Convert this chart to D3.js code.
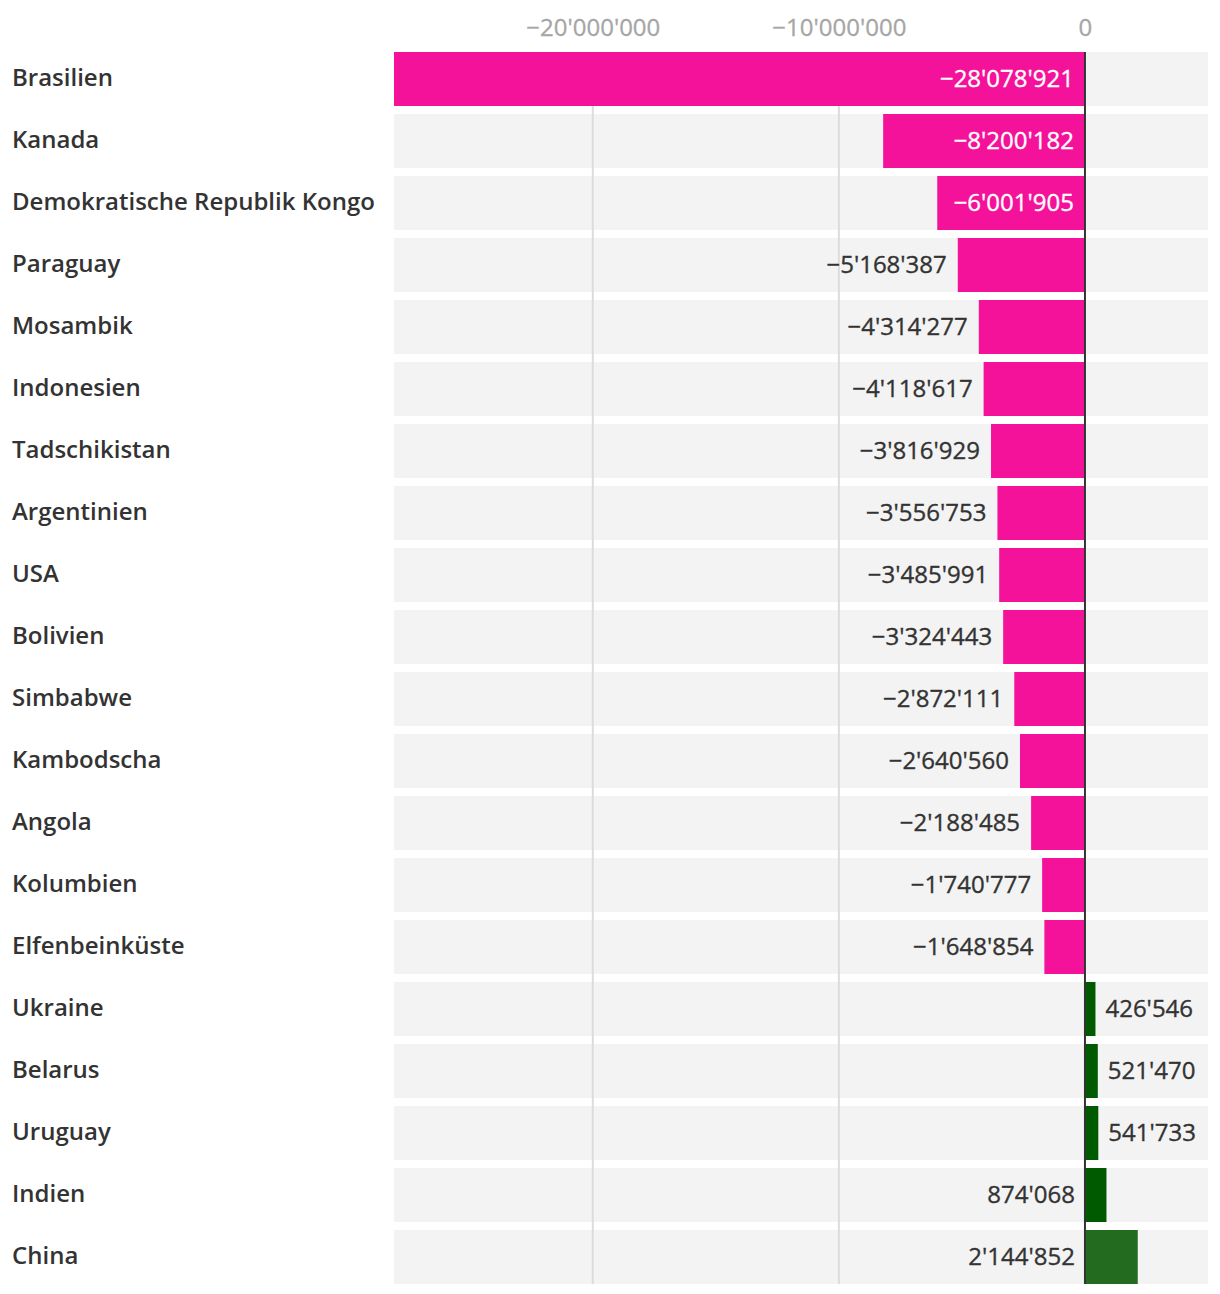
<!DOCTYPE html>
<html><head><meta charset="utf-8">
<script src="https://cdn.jsdelivr.net/npm/d3@7"></script>
<style>
body{margin:0;background:#fff;font-family:"Open Sans",sans-serif;}
</style></head>
<body><svg id="chart" width="1220" height="1294"></svg>
<script>
const countries = ["Brasilien","Kanada","Demokratische Republik Kongo","Paraguay","Mosambik","Indonesien","Tadschikistan","Argentinien","USA","Bolivien","Simbabwe","Kambodscha","Angola","Kolumbien","Elfenbeinküste","Ukraine","Belarus","Uruguay","Indien","China"];
const values = [-28078921,-8200182,-6001905,-5168387,-4314277,-4118617,-3816929,-3556753,-3485991,-3324443,-2872111,-2640560,-2188485,-1740777,-1648854,426546,521470,541733,874068,2144852];
const tickValues = [-20000000,-10000000,0];

(function(){
const barColors = values.map((v,i)=> v<0 ? "#f5129b" : (countries[i]==="China" ? "#236b1e" : "#005a00"));
const data = countries.map((c,i)=>({country:c,value:values[i],color:barColors[i]}));
const loc = d3.formatLocale({decimal:".",thousands:"'",grouping:[3],currency:["",""],minus:"\u2212"});
const fmt = loc.format(",");

const svg = d3.select("#chart");
const mLeft = 394, mRight = 1208, mTop = 52, mBottom = 1284;
const x = d3.scaleLinear().domain([-28078921, 5000000]).range([mLeft, mRight]);
const y = d3.scaleBand().domain(countries).range([mTop, mBottom]).paddingInner(8/62).paddingOuter(0);

svg.append("g").selectAll("rect").data(data).join("rect")
  .attr("x", mLeft).attr("width", mRight-mLeft)
  .attr("y", d=>y(d.country)).attr("height", y.bandwidth())
  .attr("fill", "#f3f3f3");

svg.append("g").selectAll("line").data(tickValues.filter(t=>t!==0)).join("line")
  .attr("x1", d=>x(d)).attr("x2", d=>x(d)).attr("y1", mTop).attr("y2", mBottom)
  .attr("stroke", "#dcdcdc").attr("stroke-width", 2);

const axis = d3.axisTop(x).tickValues(tickValues).tickFormat(fmt).tickSize(0).tickPadding(0);
const ag = svg.append("g").attr("transform", `translate(0,36)`).call(axis);
ag.select(".domain").remove();
ag.selectAll("text").attr("fill","#a6a6a6").attr("stroke","#a6a6a6").attr("stroke-width",0.3)
  .style("font-size","24px").style("font-family","'Open Sans',sans-serif");

svg.append("g").selectAll("rect").data(data).join("rect")
  .attr("x", d=>x(Math.min(0,d.value))).attr("width", d=>Math.abs(x(d.value)-x(0)))
  .attr("y", d=>y(d.country)).attr("height", y.bandwidth())
  .attr("fill", d=>d.color);

svg.append("line").attr("x1", x(0)).attr("x2", x(0)).attr("y1", mTop).attr("y2", mBottom)
  .attr("stroke", "#333").attr("stroke-width", 2);

svg.append("g").selectAll("text").data(data).join("text")
  .attr("x", 12).attr("y", d=>y(d.country)+y.bandwidth()/2)
  .attr("dy","0.3em").attr("fill","#333").style("font-size","24px").style("font-weight","600")
  .text(d=>d.country);

function labelPlace(d){
  if (d.value < -6000000) return {x:x(0)-11, anchor:"end", fill:"#fff"};
  if (d.value < 0) return {x:x(d.value)-11, anchor:"end", fill:"#333"};
  if (d.value < 600000) return {x:x(d.value)+10, anchor:"start", fill:"#333"};
  return {x:x(0)-10, anchor:"end", fill:"#333"};
}
svg.append("g").selectAll("text").data(data).join("text")
  .attr("x", d=>labelPlace(d).x).attr("y", d=>y(d.country)+y.bandwidth()/2)
  .attr("dy","0.32em").attr("text-anchor", d=>labelPlace(d).anchor)
  .attr("fill", d=>labelPlace(d).fill).attr("stroke", d=>labelPlace(d).fill).attr("stroke-width",0.35)
  .style("font-size","24px")
  .text(d=>fmt(d.value));
})();
</script></body></html>
